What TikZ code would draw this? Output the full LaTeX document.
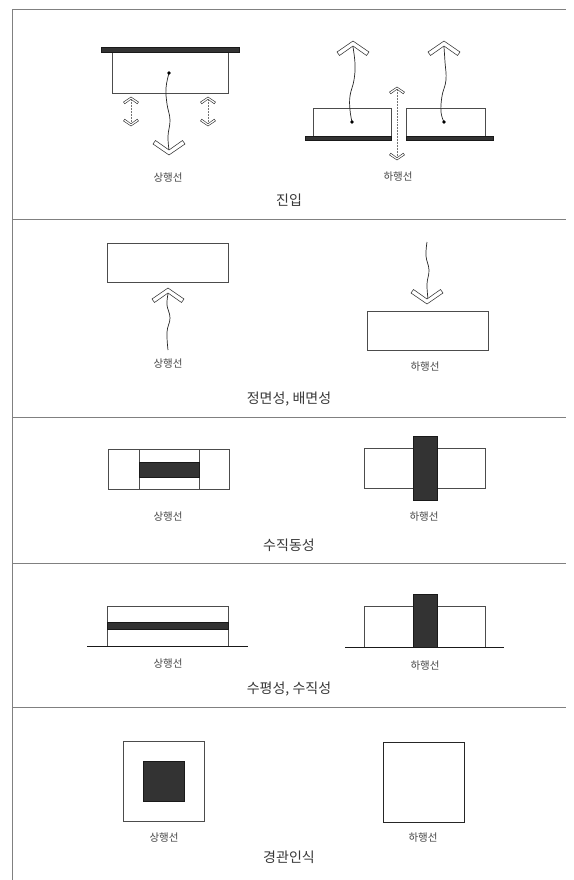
\documentclass[tikz,border=0pt]{standalone}
\usepackage{fontspec}
\setmainfont{Noto Sans CJK KR}
\begin{document}
\begin{tikzpicture}[x=1pt,y=-1pt,
  frame/.style={draw=black!50, line width=0.8pt},
  box/.style={draw=black!70, line width=0.6pt, fill=white},
  dark/.style={fill=black!80, draw=black!90, line width=0.4pt},
  lbl/.style={font=\fontsize{10.5}{12}\selectfont, text=black!72, inner sep=0pt},
  ttl/.style={font=\fontsize{14}{16}\selectfont, text=black!78, inner sep=0pt},
  wave/.style={draw=black!85, line width=0.7pt},
  chev/.style={draw=black!80, fill=white, line width=0.55pt, line join=miter},
  dim/.style={draw=black!55, line width=0.5pt, densely dotted},
  chevron/.pic={\path[chev] (0,0) -- (-16,-11) -- (-13.5,-14.5) -- (0,-5) -- (13.5,-14.5) -- (16,-11) -- cycle;},
  smallchev/.pic={\path[chev, line width=0.45pt] (0,0) -- (-7.5,-5) -- (-6.3,-6.8) -- (0,-2.3) -- (6.3,-6.8) -- (7.5,-5) -- cycle;}
]
\useasboundingbox (0,0) rectangle (573,880);
\fill[white] (0,0) rectangle (573,880);

% frame and dividers
\draw[frame] (12,880) -- (12,9) -- (566,9);
\draw[frame] (12,219) -- (566,219);
\draw[frame] (12,417) -- (566,417);
\draw[frame] (12,563) -- (566,563);
\draw[frame] (12,707) -- (566,707);

% ================= panel 1 : 진입 =================
\draw[box] (112,52) rectangle (228,93);
\fill[dark] (101,47) rectangle (239,52);
\coordinate (p1dot) at (169,73);
\coordinate (p1tip) at (169,155);
\draw[wave] plot[smooth, tension=0.7] coordinates {(169,73) (166,88) (167,104) (170,120) (168,136) (169,150)};
\fill[black] (p1dot) circle (1.8);
\pic at (p1tip) {chevron};
% small double arrows
\coordinate (d1t) at (131,97); \coordinate (d1b) at (131,126);
\draw[dim] (131,99) -- (131,124);
\pic[rotate=180] at (d1t) {smallchev};
\pic at (d1b) {smallchev};
\coordinate (d2t) at (208,97); \coordinate (d2b) at (208,126);
\draw[dim] (208,99) -- (208,124);
\pic[rotate=180] at (d2t) {smallchev};
\pic at (d2b) {smallchev};
\node[lbl] (l1a) at (168,178) {상행선};

% right
\draw[box] (313,108) rectangle (391,137);
\draw[box] (406,108) rectangle (485,137);
\fill[dark] (305,136) rectangle (391,140);
\fill[dark] (406,136) rectangle (493,140);
\coordinate (p1rd1) at (352,122);
\coordinate (p1rd2) at (444,122);
\draw[wave] plot[smooth, tension=0.7] coordinates {(352,122) (350,110) (350,96) (354,80) (355,64) (353,47)};
\draw[wave] plot[smooth, tension=0.7] coordinates {(444,122) (441,112) (442,96) (446,80) (445,62) (444,47)};
\fill[black] (p1rd1) circle (1.8);
\fill[black] (p1rd2) circle (1.8);
\pic[rotate=180] at (353,41) {chevron};
\pic[rotate=180] at (444,41) {chevron};
\coordinate (d3t) at (397,87); \coordinate (d3b) at (397,160);
\draw[dim] (397,89) -- (397,158);
\pic[rotate=180] at (d3t) {smallchev};
\pic at (d3b) {smallchev};
\node[lbl] (l1b) at (398,177) {하행선};
\node[ttl] (t1) at (289,200) {진입};

% ================= panel 2 : 정면성, 배면성 =================
\draw[box] (107,243) rectangle (228,282);
\draw[wave] plot[smooth, tension=0.7] coordinates {(168,294) (167,305) (170,318) (167,332) (168,350)};
\pic[rotate=180] at (168,288) {chevron};
\node[lbl] (l2a) at (168,364) {상행선};

\draw[wave] plot[smooth, tension=0.7] coordinates {(427,242) (426,256) (429,270) (427,284) (428,299)};
\pic at (427,304) {chevron};
\draw[box] (367,311) rectangle (488,350);
\node[lbl] (l2b) at (425,367) {하행선};
\node[ttl] (t2) at (289,399) {정면성, 배면성};

% ================= panel 3 : 수직동성 =================
\draw[box] (108,449) rectangle (229,489);
\draw[box] (139,449) -- (139,489);
\draw[box] (199,449) -- (199,489);
\fill[dark] (139,462) rectangle (199,477);
\node[lbl] (l3a) at (168,517) {상행선};

\draw[box] (364,448) rectangle (485,488);
\fill[dark] (413,436) rectangle (437,500);
\node[lbl] (l3b) at (424,517) {하행선};
\node[ttl] (t3) at (289,545) {수직동성};

% ================= panel 4 : 수평성, 수직성 =================
\draw[box] (107,606) rectangle (228,646);
\fill[dark] (107,622) rectangle (228,629);
\draw[black!90, line width=1.6pt] (87,646.5) -- (248,646.5);
\node[lbl] (l4a) at (168,664) {상행선};

\draw[box] (364,606) rectangle (485,647);
\fill[dark] (413,594) rectangle (437,647);
\draw[black!90, line width=1.6pt] (345,647.5) -- (504,647.5);
\node[lbl] (l4b) at (425,666) {하행선};
\node[ttl] (t4) at (289,689) {수평성, 수직성};

% ================= panel 5 : 경관인식 =================
\draw[box] (123,741) rectangle (204,821);
\fill[dark] (143,761) rectangle (184,801);
\node[lbl] (l5a) at (164,838) {상행선};

\draw[box, draw=black!85] (383,742) rectangle (464,822);
\node[lbl] (l5b) at (423,838) {하행선};
\node[ttl] (t5) at (289,857) {경관인식};
\end{tikzpicture}
\end{document}
